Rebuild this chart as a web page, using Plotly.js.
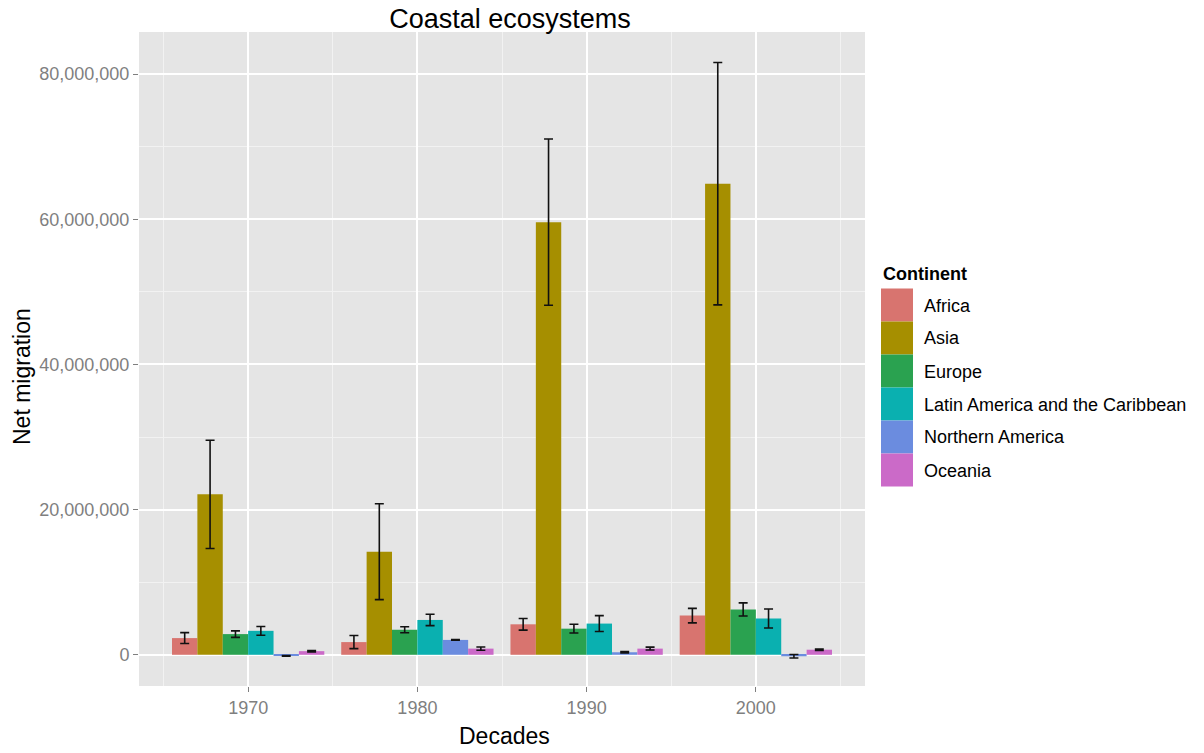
<!DOCTYPE html>
<html>
<head>
<meta charset="utf-8">
<script src="https://cdn.plot.ly/plotly-3.0.1.min.js"></script>
<style>
  html, body { margin: 0; padding: 0; background: #ffffff; }
  #chart { width: 1204px; height: 753px; }
</style>
</head>
<body>
<div id="chart"></div>
<script>
// ---- data ----
const decades = [1970, 1980, 1990, 2000];
const continents = ["Africa", "Asia", "Europe", "Latin America and the Caribbean", "Northern America", "Oceania"];

const africa      = [2300000, 1750000, 4200000, 5400000];
const africaErr   = [750000, 900000, 800000, 1000000];
const asia        = [22100000, 14200000, 59600000, 64900000];
const asiaErr     = [7450000, 6600000, 11450000, 16700000];
const europe      = [2850000, 3450000, 3600000, 6250000];
const europeErr   = [450000, 420000, 600000, 900000];
const latam       = [3300000, 4800000, 4300000, 5000000];
const latamErr    = [600000, 780000, 1100000, 1300000];
const namerica    = [-150000, 2050000, 350000, -200000];
const namericaErr = [50000, 50000, 80000, 250000];
const oceania     = [500000, 850000, 850000, 700000];
const oceaniaErr  = [100000, 220000, 200000, 100000];

const yTickVals = [0, 20000000, 40000000, 60000000, 80000000];

// ---- styling ----
const colors = ["#D8746F", "#A68F00", "#2AA250", "#0AB0B0", "#6B8CDF", "#CB6AC8"];
const FONT = "Liberation Sans, Arial, sans-serif";

const seriesVals = [africa, asia, europe, latam, namerica, oceania];
const seriesErrs = [africaErr, asiaErr, europeErr, latamErr, namericaErr, oceaniaErr];

const traces = continents.map((name, i) => ({
  type: "bar",
  name: name,
  x: decades,
  y: seriesVals[i],
  marker: { color: colors[i], line: { width: 0 } },
  error_y: { type: "data", array: seriesErrs[i], visible: true, color: "#111111", thickness: 1.6, width: 4.5 },
  showlegend: false,
  hoverinfo: "x+y+name"
}));

// plot area in pixels
const W = 1204, H = 753;
const L = 139, R = 865, T = 32, B = 686;
const px2x = p => (p - L) / (R - L);
const py2y = p => (B - p) / (B - T);

const shapes = [];
const annotations = [];

// manual legend (ggplot-style large keys)
annotations.push({
  xref: "paper", yref: "paper", x: px2x(881), y: py2y(274),
  xanchor: "left", yanchor: "middle", showarrow: false,
  text: "<b>Continent</b>", font: { family: FONT, size: 18, color: "#000000" }
});
continents.forEach((name, i) => {
  const top = 288.5 + i * 33;
  shapes.push({
    type: "rect", xref: "paper", yref: "paper",
    x0: px2x(881), x1: px2x(913), y0: py2y(top + 33), y1: py2y(top),
    fillcolor: colors[i], line: { width: 0 }
  });
  annotations.push({
    xref: "paper", yref: "paper", x: px2x(922), y: py2y(top + 17),
    xanchor: "left", yanchor: "middle", showarrow: false,
    text: name, font: { family: FONT, size: 18, color: "#000000" }
  });
});

// axis titles
annotations.push({
  xref: "paper", yref: "paper", x: px2x(504), y: py2y(736),
  xanchor: "center", yanchor: "middle", showarrow: false,
  text: "Decades", font: { family: FONT, size: 23, color: "#000000" }
});
annotations.push({
  xref: "paper", yref: "paper", x: px2x(22), y: py2y(377),
  xanchor: "center", yanchor: "middle", showarrow: false, textangle: -90,
  text: "Net migration", font: { family: FONT, size: 23, color: "#000000" }
});

const layout = {
  width: W, height: H,
  margin: { l: L, r: W - R, t: T, b: H - B, pad: 0 },
  paper_bgcolor: "#ffffff",
  plot_bgcolor: "#E5E5E5",
  font: { family: FONT, color: "#000000" },
  title: {
    text: "Coastal ecosystems",
    font: { family: FONT, size: 27, color: "#000000" },
    xref: "container", yref: "container",
    x: 510 / W, xanchor: "center",
    y: 1 - 19 / H, yanchor: "middle"
  },
  barmode: "group",
  bargap: 0.1,
  bargroupgap: 0,
  showlegend: false,
  xaxis: {
    range: [1963.55, 2006.45],
    tickmode: "array", tickvals: decades, ticktext: decades.map(String),
    ticks: "outside", ticklen: 5, tickwidth: 1.2, tickcolor: "#7F7F7F",
    tickfont: { family: FONT, size: 18, color: "#7F7F7F" },
    showgrid: true, gridcolor: "#FFFFFF", gridwidth: 1.6,
    minor: { tick0: 1965, dtick: 10, showgrid: true, gridcolor: "#F2F2F2", gridwidth: 0.8, ticks: "" },
    zeroline: false, showline: false, fixedrange: true
  },
  yaxis: {
    range: [-4300000, 85800000],
    tickmode: "array", tickvals: yTickVals,
    ticktext: yTickVals.map(v => v.toLocaleString("en-US")),
    ticks: "outside", ticklen: 5, tickwidth: 1.2, tickcolor: "#7F7F7F",
    tickfont: { family: FONT, size: 18, color: "#7F7F7F" },
    showgrid: true, gridcolor: "#FFFFFF", gridwidth: 1.6,
    minor: { tick0: 10000000, dtick: 20000000, showgrid: true, gridcolor: "#F2F2F2", gridwidth: 0.8, ticks: "" },
    zeroline: false, showline: false, fixedrange: true
  },
  shapes: shapes,
  annotations: annotations
};

Plotly.newPlot("chart", traces, layout, { displayModeBar: false, staticPlot: false });
</script>
</body>
</html>
